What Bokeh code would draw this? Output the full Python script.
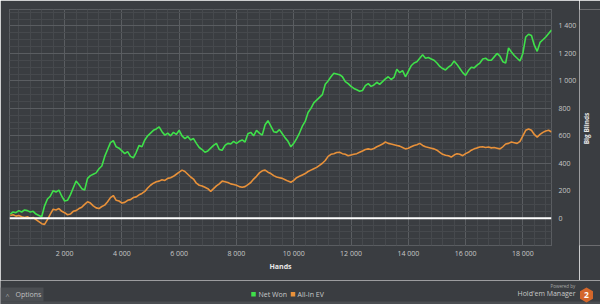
import math
from bokeh.plotting import figure
from bokeh.layouts import column, row
from bokeh.models import (SingleIntervalTicker, CustomJSTickFormatter, Span, Label, Range1d)
from bokeh.embed import file_html
from bokeh.resources import INLINE

# ---- data ----
hands = list(range(100, 19001, 100))

net_won = [
    30, 45, 40, 55, 45, 60, 55, 45, 50, 30,
    20, 10, 90, 140, 160, 200, 190, 205, 160, 125,
    130, 170, 220, 270, 245, 215, 205, 290, 310, 320,
    330, 360, 380, 450, 500, 550, 565, 520, 510, 490,
    470, 485, 450, 440, 480, 530, 520, 570, 600, 620,
    640, 650, 665, 630, 605, 620, 600, 625, 610, 640,
    600, 580, 595, 570, 580, 545, 515, 500, 480, 490,
    510, 530, 545, 500, 495, 530, 545, 540, 560, 545,
    560, 570, 555, 615, 625, 600, 640, 620, 605, 680,
    710, 670, 630, 625, 645, 615, 585, 560, 520, 545,
    580, 620, 670, 705, 770, 800, 840, 860, 880, 900,
    975, 1000, 1030, 1055, 1050, 1045, 1030, 995, 980, 960,
    945, 935, 925, 930, 965, 980, 960, 970, 990, 975,
    995, 1015, 1030, 1010, 1025, 1085, 1060, 1075, 1030, 1070,
    1110, 1130, 1140, 1165, 1190, 1165, 1170, 1160, 1150, 1130,
    1105, 1090, 1080, 1100, 1115, 1145, 1120, 1090, 1060, 1040,
    1075, 1100, 1095, 1115, 1130, 1160, 1165, 1150, 1150, 1175,
    1200, 1180, 1140, 1130, 1240, 1210, 1185, 1165, 1145, 1200,
    1320, 1340, 1330, 1260, 1215, 1280, 1300, 1320, 1345, 1370,
]

allin_ev = [
    20, 25, 15, 20, 10, 5, 10, 0, 5, -10,
    -25, -40, -45, -10, 30, 65, 60, 70, 50, 40,
    25, 30, 50, 55, 70, 80, 100, 120, 110, 90,
    75, 70, 85, 95, 120, 150, 165, 130, 125, 110,
    115, 130, 135, 150, 155, 170, 180, 195, 220, 240,
    255, 265, 270, 280, 275, 290, 295, 305, 320, 335,
    350, 340, 320, 300, 285, 255, 240, 235, 225, 215,
    195, 215, 235, 250, 270, 265, 260, 250, 245, 240,
    230, 225, 230, 245, 260, 285, 305, 330, 345, 350,
    335, 325, 310, 300, 295, 290, 280, 270, 262, 275,
    295, 305, 315, 325, 340, 350, 360, 370, 385, 400,
    420, 450, 465, 470, 478, 480, 470, 465, 455, 460,
    465, 470, 480, 490, 500, 505, 500, 508, 520, 530,
    540, 555, 545, 540, 535, 530, 525, 515, 505, 510,
    520, 530, 535, 545, 530, 520, 515, 510, 505, 495,
    480, 465, 458, 455, 445, 460, 470, 465, 455, 470,
    480, 495, 505, 512, 518, 520, 515, 518, 512, 515,
    510, 505, 520, 540, 545, 555, 550, 545, 560, 600,
    640, 650, 640, 610, 590, 610, 625, 635, 640, 628,
]

series_names = ["Net Won", "All-In EV"]
x_label = "Hands"
y_label = "Big Blinds"

# ---- style ----
BG = "#3a3d41"
GRID = "#5a5d61"
MINOR = "#46494d"
GREEN = "#3fe04a"
ORANGE = "#e8913a"
TXT = "#c8c8c8"
FONT = "Open Sans"

FL, FT, FR, FB = 9, 9, 553, 245  # frame edges in page pixels
H1 = 280                          # height of the chart part
W1 = 579                          # width of the chart figure

p = figure(width=W1, height=H1, output_backend="svg", toolbar_location=None,
           x_range=Range1d(75, 19000), y_range=Range1d(-199, 1520),
           y_axis_location="right",
           min_border_left=FL, min_border_top=FT,
           min_border_right=W1 - FR, min_border_bottom=H1 - FB,
           background_fill_color=BG, border_fill_color=BG,
           outline_line_color=GRID, outline_line_width=1)

xt = SingleIntervalTicker(interval=2000, num_minor_ticks=5)
yt = SingleIntervalTicker(interval=200, num_minor_ticks=4)
fmt = CustomJSTickFormatter(code="return Math.round(tick).toString().replace(/\\B(?=(\\d{3})+(?!\\d))/g, ' ');")

p.xaxis.ticker = xt
p.xgrid.ticker = xt
p.yaxis.ticker = yt
p.ygrid.ticker = yt
for ax in (p.xaxis, p.yaxis):
    ax.formatter = fmt
    ax.axis_line_color = None
    ax.major_tick_line_color = None
    ax.minor_tick_line_color = None
    ax.major_tick_out = 0
    ax.major_tick_in = 0
    ax.minor_tick_out = 0
    ax.major_label_text_color = TXT
    ax.major_label_text_font = FONT
    ax.major_label_text_font_size = "7px"
    ax.axis_label_text_font = FONT
    ax.axis_label_text_font_style = "bold"
    ax.axis_label_text_font_size = "7px"
    ax.axis_label_text_color = "#e8e8e8"

p.xaxis.major_label_standoff = 3
p.xaxis.axis_label = x_label
p.xaxis.axis_label_standoff = 1
p.yaxis.major_label_standoff = 7

p.grid.grid_line_color = GRID
p.grid.grid_line_width = 1
p.grid.minor_grid_line_color = MINOR
p.grid.minor_grid_line_width = 1

p.line(hands, net_won, line_color=GREEN, line_width=1.6)
p.line(hands, allin_ev, line_color=ORANGE, line_width=1.6)

p.add_layout(Span(location=0, dimension="width", line_color="white", line_width=2))

# ---- narrow strip on the right: y-axis title reading bottom-to-top ----
W2 = 600 - W1
r = figure(width=W2, height=H1, output_backend="svg", toolbar_location=None,
           x_range=Range1d(0, W2), y_range=Range1d(0, H1 - FT - (H1 - FB)),
           min_border_left=0, min_border_right=0, min_border_top=FT, min_border_bottom=H1 - FB,
           background_fill_color=BG, border_fill_color=BG,
           outline_line_color=None, x_axis_type=None, y_axis_type=None)
r.grid.visible = False
r.add_layout(Label(text=y_label, x=586 - W1, y=FB - 128, x_units="screen", y_units="screen",
                   angle=math.pi / 2, text_font=FONT, text_font_size="6.5px",
                   text_font_style="bold", text_color="#e8e8e8",
                   text_align="center", text_baseline="middle"))

# ---- bottom strip: options button, legend, branding ----
H2 = 304 - H1
q = figure(width=600, height=H2, output_backend="svg", toolbar_location=None,
           x_range=Range1d(0, 600), y_range=Range1d(0, H2),
           min_border=0, min_border_left=0, min_border_right=0,
           min_border_top=0, min_border_bottom=0,
           background_fill_color=BG, border_fill_color=BG,
           outline_line_color=None, x_axis_type=None, y_axis_type=None)
q.grid.visible = False


def py(v):
    return 304 - v


def lab(text, x, y, size, color=TXT, align="left", style="normal"):
    q.add_layout(Label(text=text, x=x, y=py(y), text_font=FONT, text_font_size=size,
                       text_color=color, text_align=align, text_baseline="middle",
                       text_font_style=style))


# bottom stripe and options button
q.quad(left=[0], right=[600], bottom=[py(304)], top=[py(301)], fill_color="#4a4d51", line_color=None)
q.quad(left=[0], right=[43], bottom=[py(301)], top=[py(287)], fill_color="#4b4e52", line_color=None)
lab("\u02c4", 7, 295, "7px", color="#c0c0c0", align="center")
lab("Options", 15, 294, "7px", color="#c0c0c0")

# legend
q.scatter([253, 292.5], [py(293.7), py(293.7)], marker="square", size=4.5,
          fill_color=[GREEN, ORANGE], line_color=None)
lab(series_names[0], 258, 293.5, "7px")
lab(series_names[1], 297, 293.5, "7px")

# branding
lab("Powered by", 550, 285, "4.5px", color="#a8a8a8")
lab("Hold'em Manager", 517, 293, "7px", color="#c8c8c8")
q.scatter([586], [py(294.5)], marker="hex", size=15, angle=math.pi / 6,
          fill_color="#d4672b", line_color=None)
lab("2", 586, 294.5, "8.5px", color="white", align="center", style="bold")

layout = column(row(p, r, spacing=0), q, spacing=0)
open("out.html", "w").write(file_html(layout, INLINE))
